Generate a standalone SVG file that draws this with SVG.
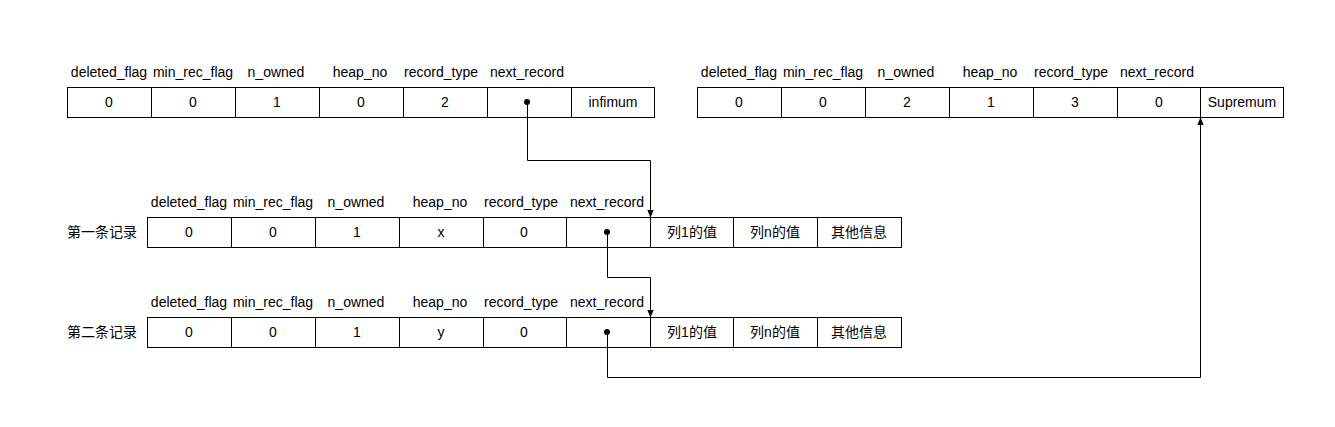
<svg xmlns="http://www.w3.org/2000/svg" width="1335" height="427" viewBox="0 0 1335 427">
<defs>
<style>
text{font-family:"Liberation Sans","Noto Sans CJK SC",Arial,sans-serif;font-size:14px;fill:#000;text-anchor:middle;dominant-baseline:central}
.c{fill:#fff;stroke:#000;stroke-width:1}
.w{fill:none;stroke:#000;stroke-width:1}
.lab{text-anchor:end}
</style>
<marker id="ah" viewBox="0 0 10 10" refX="9" refY="5" markerWidth="8" markerHeight="8" markerUnits="userSpaceOnUse" orient="auto">
<path d="M0,1 L10,5 L0,9 Z" fill="#000"/>
</marker>
</defs>
<rect width="1335" height="427" fill="#fff"/>

<g id="infimum">
<rect class="c" x="67.5" y="87.5" width="84" height="30"/>
<rect class="c" x="151.5" y="87.5" width="84" height="30"/>
<rect class="c" x="235.5" y="87.5" width="84" height="30"/>
<rect class="c" x="319.5" y="87.5" width="84" height="30"/>
<rect class="c" x="403.5" y="87.5" width="84" height="30"/>
<rect class="c" x="487.5" y="87.5" width="84" height="30"/>
<rect class="c" x="571.5" y="87.5" width="83" height="30"/>
<text x="109" y="72">deleted_flag</text>
<text x="193" y="72">min_rec_flag</text>
<text x="276" y="72">n_owned</text>
<text x="360" y="72">heap_no</text>
<text x="441" y="72">record_type</text>
<text x="527" y="72">next_record</text>
<text x="109" y="102">0</text>
<text x="193" y="102">0</text>
<text x="277" y="102">1</text>
<text x="361" y="102">0</text>
<text x="445" y="102">2</text>
<circle cx="527" cy="102" r="3" fill="#000"/>
<text x="613" y="102">infimum</text>
</g>

<g id="supremum">
<rect class="c" x="697.5" y="87.5" width="84" height="30"/>
<rect class="c" x="781.5" y="87.5" width="84" height="30"/>
<rect class="c" x="865.5" y="87.5" width="84" height="30"/>
<rect class="c" x="949.5" y="87.5" width="84" height="30"/>
<rect class="c" x="1033.5" y="87.5" width="84" height="30"/>
<rect class="c" x="1117.5" y="87.5" width="83" height="30"/>
<rect class="c" x="1200.5" y="87.5" width="83" height="30"/>
<text x="739" y="72">deleted_flag</text>
<text x="823" y="72">min_rec_flag</text>
<text x="906" y="72">n_owned</text>
<text x="990" y="72">heap_no</text>
<text x="1071" y="72">record_type</text>
<text x="1157" y="72">next_record</text>
<text x="739" y="102">0</text>
<text x="823" y="102">0</text>
<text x="907" y="102">2</text>
<text x="991" y="102">1</text>
<text x="1075" y="102">3</text>
<text x="1159" y="102">0</text>
<text x="1242" y="102">Supremum</text>
</g>

<g id="record1">
<text class="lab" x="137" y="232">第一条记录</text>
<rect class="c" x="147.5" y="217.5" width="84" height="30"/>
<rect class="c" x="231.5" y="217.5" width="84" height="30"/>
<rect class="c" x="315.5" y="217.5" width="84" height="30"/>
<rect class="c" x="399.5" y="217.5" width="84" height="30"/>
<rect class="c" x="483.5" y="217.5" width="83" height="30"/>
<rect class="c" x="566.5" y="217.5" width="84" height="30"/>
<rect class="c" x="650.5" y="217.5" width="83" height="30"/>
<rect class="c" x="733.5" y="217.5" width="84" height="30"/>
<rect class="c" x="817.5" y="217.5" width="84" height="30"/>
<text x="189" y="202">deleted_flag</text>
<text x="273" y="202">min_rec_flag</text>
<text x="356" y="202">n_owned</text>
<text x="440" y="202">heap_no</text>
<text x="521" y="202">record_type</text>
<text x="607" y="202">next_record</text>
<text x="189" y="232">0</text>
<text x="273" y="232">0</text>
<text x="357" y="232">1</text>
<text x="441" y="232">x</text>
<text x="524" y="232">0</text>
<circle cx="607" cy="232" r="3" fill="#000"/>
<text x="692" y="232">列1的值</text>
<text x="775" y="232">列n的值</text>
<text x="859" y="232">其他信息</text>
</g>

<g id="record2">
<text class="lab" x="137" y="332">第二条记录</text>
<rect class="c" x="147.5" y="317.5" width="84" height="30"/>
<rect class="c" x="231.5" y="317.5" width="84" height="30"/>
<rect class="c" x="315.5" y="317.5" width="84" height="30"/>
<rect class="c" x="399.5" y="317.5" width="84" height="30"/>
<rect class="c" x="483.5" y="317.5" width="83" height="30"/>
<rect class="c" x="566.5" y="317.5" width="84" height="30"/>
<rect class="c" x="650.5" y="317.5" width="83" height="30"/>
<rect class="c" x="733.5" y="317.5" width="84" height="30"/>
<rect class="c" x="817.5" y="317.5" width="84" height="30"/>
<text x="189" y="302">deleted_flag</text>
<text x="273" y="302">min_rec_flag</text>
<text x="356" y="302">n_owned</text>
<text x="440" y="302">heap_no</text>
<text x="521" y="302">record_type</text>
<text x="607" y="302">next_record</text>
<text x="189" y="332">0</text>
<text x="273" y="332">0</text>
<text x="357" y="332">1</text>
<text x="441" y="332">y</text>
<text x="524" y="332">0</text>
<circle cx="607" cy="332" r="3" fill="#000"/>
<text x="692" y="332">列1的值</text>
<text x="775" y="332">列n的值</text>
<text x="859" y="332">其他信息</text>
</g>

<g id="connectors">
<path class="w" d="M527.5,102 V160.5 H650.5 V217" marker-end="url(#ah)"/>
<path class="w" d="M607.5,232 V277.5 H650.5 V317" marker-end="url(#ah)"/>
<path class="w" d="M607.5,332 V377.5 H1200.5 V118" marker-end="url(#ah)"/>
</g>
</svg>
